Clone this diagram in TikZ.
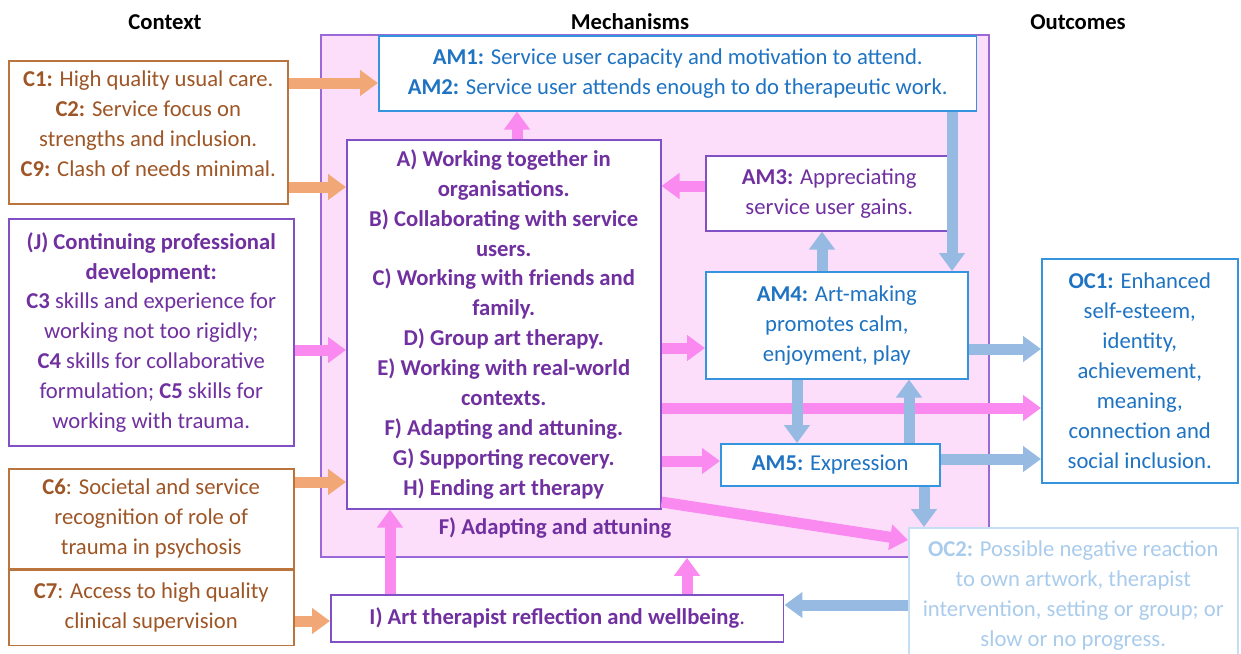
\documentclass[tikz,border=0pt]{standalone}
\usepackage{fontspec}
\setmainfont{Carlito}
\usetikzlibrary{positioning}
\usetikzlibrary{arrows.meta}

\definecolor{ctxline}{RGB}{186,116,62}
\definecolor{ctxtext}{RGB}{158,86,38}
\definecolor{mechfill}{RGB}{252,222,251}
\definecolor{mechline}{RGB}{155,105,215}
\definecolor{purpline}{RGB}{128,80,196}
\definecolor{purptext}{RGB}{112,48,160}
\definecolor{amline}{RGB}{52,148,222}
\definecolor{amtext}{RGB}{30,115,195}
\definecolor{ocfade}{RGB}{196,222,245}
\definecolor{ocfadetext}{RGB}{170,204,236}
\definecolor{arrorange}{RGB}{242,168,118}
\definecolor{arrpink}{RGB}{250,138,240}
\definecolor{arrblue}{RGB}{150,186,226}

\tikzset{
  box/.style={draw, fill=white, line width=0.9pt, align=center, anchor=north west, inner sep=2pt},
  ctxbox/.style={box, draw=ctxline, text=ctxtext},
  purpbox/.style={box, draw=purpline, text=purptext},
  ambox/.style={box, draw=amline, text=amtext},
  fadebox/.style={box, draw=ocfade, text=ocfadetext},
  coltitle/.style={font=\fontsize{12.9}{17}\selectfont\bfseries, text=black},
  blockarrow/.style={line width=0.22cm, -{Triangle[width=0.5cm,length=0.36cm]}},
  orangearr/.style={blockarrow, draw=arrorange},
  pinkarr/.style={blockarrow, draw=arrpink},
  bluearr/.style={blockarrow, draw=arrblue},
}

\begin{document}
\begin{tikzpicture}[x=0.02cm, y=-0.02cm, every node/.style={font=\fontsize{12.9}{17}\selectfont}]
\useasboundingbox (0,0) rectangle (1241,653);
\fill[white] (0,0) rectangle (1241,653);

% column titles
\node[coltitle] (ctxtitle) at (165,22) {Context};
\node[coltitle] (mechtitle) at (630,22) {Mechanisms};
\node[coltitle] (outtitle) at (1078,22) {Outcomes};

% mechanisms area
\node[draw=mechline, fill=mechfill, line width=1.1pt, anchor=north west,
      minimum width=13.36cm, minimum height=10.44cm] (mech) at (320,34) {};

% context
\node[ctxbox, minimum width=5.58cm, minimum height=2.86cm, text depth=0.34cm] (c1) at (8,60)
  {\textbf{C1:} High quality usual care.\\ \textbf{C2:} Service focus on\\ strengths and inclusion.\\ \textbf{C9:} Clash of needs minimal.};
\node[purpbox, minimum width=5.7cm, minimum height=4.54cm] (cpd) at (8,218)
  {\textbf{(J) Continuing professional}\\ \textbf{development:}\\ \textbf{C3} skills and experience for\\ working not too rigidly;\\ \textbf{C4} skills for collaborative\\ formulation; \textbf{C5} skills for\\ working with trauma.};
\node[ctxbox, minimum width=5.7cm, minimum height=2.0cm] (c6) at (8,468)
  {\textbf{C6}: Societal and service\\ recognition of role of\\ trauma in psychosis};
\node[ctxbox, minimum width=5.7cm, minimum height=1.5cm, below=0 of c6.south west, anchor=north west] (c7)
  {\textbf{C7}: Access to high quality\\ clinical supervision};

% mechanisms
\node[ambox, minimum width=11.96cm, minimum height=1.5cm] (am1) at (378,35)
  {\textbf{AM1:} Service user capacity and motivation to attend.\\ \textbf{AM2:} Service user attends enough to do therapeutic work.};
\node[purpbox, minimum width=6.28cm, minimum height=7.38cm, font=\fontsize{12.9}{17}\selectfont\bfseries] (main) at (346,139)
  {A) Working together in\\ organisations.\\ B) Collaborating with service\\ users.\\ C) Working with friends and\\ family.\\ D) Group art therapy.\\ E) Working with real-world\\ contexts.\\ F) Adapting and attuning.\\ G) Supporting recovery.\\ H) Ending art therapy};
\node[purpbox, minimum width=4.94cm, minimum height=1.5cm] (am3) at (705,155)
  {\textbf{AM3:} Appreciating\\ service user gains.};
\node[ambox, minimum width=5.24cm, minimum height=2.14cm] (am4) at (705,271)
  {\textbf{AM4:} Art-making\\ promotes calm,\\ enjoyment, play};
\node[ambox, minimum width=4.38cm, minimum height=0.84cm] (am5) at (720,443)
  {\textbf{AM5:} Expression};
\node[text=purptext, font=\fontsize{12.9}{17}\selectfont\bfseries] (adapt) at (555,528) {F) Adapting and attuning};
\node[purpbox, minimum width=9.06cm, minimum height=0.94cm] (ibox) at (330,594)
  {\textbf{I) Art therapist reflection and wellbeing}.};

% outcomes
\node[ambox, minimum width=3.92cm, minimum height=4.48cm] (oc1) at (1041,258)
  {\textbf{OC1:} Enhanced\\ self-esteem,\\ identity,\\ achievement,\\ meaning,\\ connection and\\ social inclusion.};
\node[fadebox, minimum width=6.58cm, minimum height=2.7cm] (oc2) at (908,527)
  {\textbf{OC2:} Possible negative reaction\\ to own artwork, therapist\\ intervention, setting or group; or\\ slow or no progress.};

% context arrows
\draw[orangearr] (c1.east |- 0,83) -- (am1.west |- 0,83);
\draw[orangearr] (c1.east |- 0,187) -- (main.west |- 0,187);
\draw[orangearr] (c6.east |- 0,482) -- (main.west |- 0,482);
\draw[orangearr] (c7.east |- 0,621) -- (ibox.west |- 0,621);

% mechanism arrows
\draw[pinkarr] (cpd.east |- 0,350) -- (main.west |- 0,350);
\draw[pinkarr] (main.north -| 517,0) -- (am1.south -| 517,0);
\draw[pinkarr] (am3.west |- 0,186) -- (main.east |- 0,186);
\draw[pinkarr] (main.east |- 0,348) -- (am4.west |- 0,348);
\draw[pinkarr] (main.east |- 0,408) -- (oc1.west |- 0,408);
\draw[pinkarr] (main.east |- 0,461) -- (am5.west |- 0,461);
\draw[pinkarr] (main.east |- 0,502) -- (oc2.west |- 0,540);
\draw[pinkarr] (ibox.north -| 390,0) -- (main.south -| 390,0);
\draw[pinkarr] (ibox.north -| 687,0) -- (mech.south -| 687,0);

\draw[bluearr] (am1.south -| 952,0) -- (am4.north -| 952,0);
\draw[bluearr] (am4.north -| 822,0) -- (am3.south -| 822,0);
\draw[bluearr] (am4.south -| 797,0) -- (am5.north -| 797,0);
\draw[bluearr] (am5.north -| 909,0) -- (am4.south -| 909,0);
\draw[bluearr] (am4.east |- 0,349) -- (oc1.west |- 0,349);
\draw[bluearr] (am5.east |- 0,459) -- (oc1.west |- 0,459);
\draw[bluearr] (am5.south -| 924,0) -- (oc2.north -| 924,0);
\draw[bluearr] (oc2.west |- 0,605) -- (ibox.east |- 0,605);
\end{tikzpicture}
\end{document}
